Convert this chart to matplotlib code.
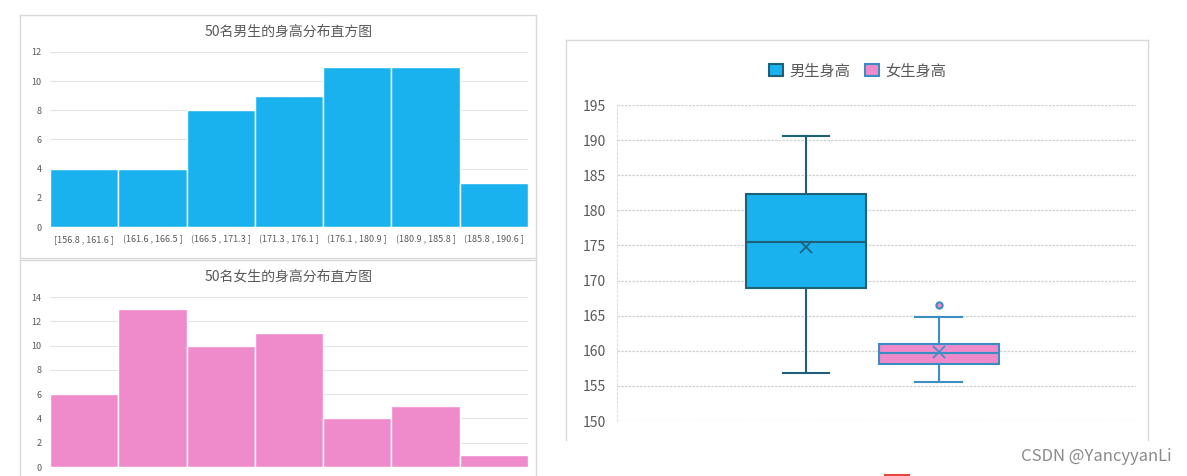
import matplotlib.pyplot as plt
import numpy as np
from matplotlib.patches import Rectangle, Patch
from matplotlib.lines import Line2D

plt.rcParams['font.family'] = ['Noto Sans CJK SC', 'DejaVu Sans']

# histogram data
bins = ['[156.8 , 161.6 ]', '(161.6 , 166.5 ]', '(166.5 , 171.3 ]', '(171.3 , 176.1 ]',
        '(176.1 , 180.9 ]', '(180.9 , 185.8 ]', '(185.8 , 190.6 ]']
male_counts = [4, 4, 8, 9, 11, 11, 3]
female_counts = [6, 13, 10, 11, 4, 5, 1]

# box plot stats
series = ['男生身高', '女生身高']
whislo = [156.8, 155.5]
q1 = [168.9, 158.1]
med = [175.5, 159.7]
q3 = [182.3, 161.0]
whishi = [190.6, 164.8]
means = [174.8, 159.8]
fliers = [[], [166.5]]

blue = '#1AB2EE'
pink = '#EF8ACB'
grey_txt = '#595959'

W, H = 1187, 476
fig = plt.figure(figsize=(11.87, 4.76), dpi=100)


# panel frames (pixel coords -> figure fraction)
def frame_line(x0, y0, x1, y1):
    fig.lines.append(Line2D([x0 / W, x1 / W], [1 - y0 / H, 1 - y1 / H],
                            transform=fig.transFigure, color='#D9D9D9', linewidth=1))


def frame(x0, y0, x1, y1, bottom=True):
    frame_line(x0, y0, x1, y0)
    frame_line(x0, y0, x0, y1)
    frame_line(x1, y0, x1, y1)
    if bottom:
        frame_line(x0, y1, x1, y1)


frame(20, 15, 536, 258)
frame(20, 260, 536, 490, bottom=False)
frame(566, 40, 1148, 440, bottom=False)


def hist_panel(ax, counts, color, title, ymax, labels):
    x = np.arange(len(counts))
    ax.bar(x, counts, width=1, color=color, edgecolor='white', linewidth=1, zorder=3)
    ax.set_xlim(-0.5, len(counts) - 0.5)
    ax.set_ylim(0, ymax)
    ax.set_yticks(np.arange(0, ymax + 1, 2))
    ax.grid(axis='y', color='#E3E3E3', linewidth=0.8, zorder=0)
    for s in ax.spines.values():
        s.set_visible(False)
    ax.tick_params(length=0, labelsize=6.5, colors=grey_txt, pad=6)
    ax.set_xticks(x)
    if labels:
        ax.set_xticklabels(labels)
    else:
        ax.set_xticklabels([])
    ax.set_title(title, fontsize=10, color=grey_txt, pad=12)


ax1 = fig.add_axes([0.0421, 0.5231, 0.4027, 0.3677])
hist_panel(ax1, male_counts, blue, '50名男生的身高分布直方图', 12, bins)

ax2 = fig.add_axes([0.0421, 0.0189, 0.4027, 0.3571])
hist_panel(ax2, female_counts, pink, '50名女生的身高分布直方图', 14, None)

# box plot
ax3 = fig.add_axes([0.5198, 0.1155, 0.4372, 0.6639])
stats = []
for i in range(2):
    stats.append(dict(whislo=whislo[i], q1=q1[i], med=med[i], q3=q3[i],
                      whishi=whishi[i], mean=means[i], fliers=fliers[i]))

faces = [blue, pink]
edges = ['#1E5F7A', '#3A8EC4']
positions = [0.364, 0.620]
for i in range(2):
    ax3.bxp([stats[i]], positions=[positions[i]], widths=0.231, showmeans=True,
            patch_artist=True, manage_ticks=False,
            boxprops=dict(facecolor=faces[i], edgecolor=edges[i], linewidth=1.5),
            medianprops=dict(color=edges[i], linewidth=1.5),
            whiskerprops=dict(color=edges[i], linewidth=1.5),
            capprops=dict(color=edges[i], linewidth=1.5),
            capwidths=0.09,
            meanprops=dict(marker='x', markeredgecolor=edges[i], markersize=8,
                           markeredgewidth=1.2),
            flierprops=dict(marker='o', markerfacecolor=pink, markeredgecolor=edges[i],
                            markersize=4.5, markeredgewidth=1.5))

ax3.set_xlim(0, 1)
ax3.set_ylim(150, 195)
ax3.set_yticks(np.arange(150, 196, 5))
ax3.set_xticks([])
ax3.grid(axis='y', color='#D0D0D0', linewidth=0.9, linestyle=(0, (2, 1)), zorder=0)
ax3.set_axisbelow(True)
for s in ['top', 'right', 'bottom']:
    ax3.spines[s].set_visible(False)
ax3.spines['left'].set_color('#E0E0E0')
ax3.spines['left'].set_linestyle((0, (2, 2)))
ax3.tick_params(length=0, labelsize=10, colors=grey_txt, pad=8)

handles = [Patch(facecolor=faces[i], edgecolor=edges[i], linewidth=1.5, label=series[i])
           for i in range(2)]
ax3.legend(handles=handles, loc='center', bbox_to_anchor=(0.464, 1.108), ncol=2,
           frameon=False, fontsize=11, labelcolor=grey_txt, handlelength=0.9,
           handleheight=0.9, handletextpad=0.4, columnspacing=1.0)

fig.text(0.987, 0.042, 'CSDN @YancyyanLi', ha='right', va='center', fontsize=12,
         color='#8A8A8A')

# small red icon peeking in at the bottom edge
fig.patches.append(Rectangle((885 / W, -0.01), 24 / W, 6 / H, transform=fig.transFigure,
                             fill=False, edgecolor='#E8463A', linewidth=1.5))

fig.savefig('out.png', dpi=100)
